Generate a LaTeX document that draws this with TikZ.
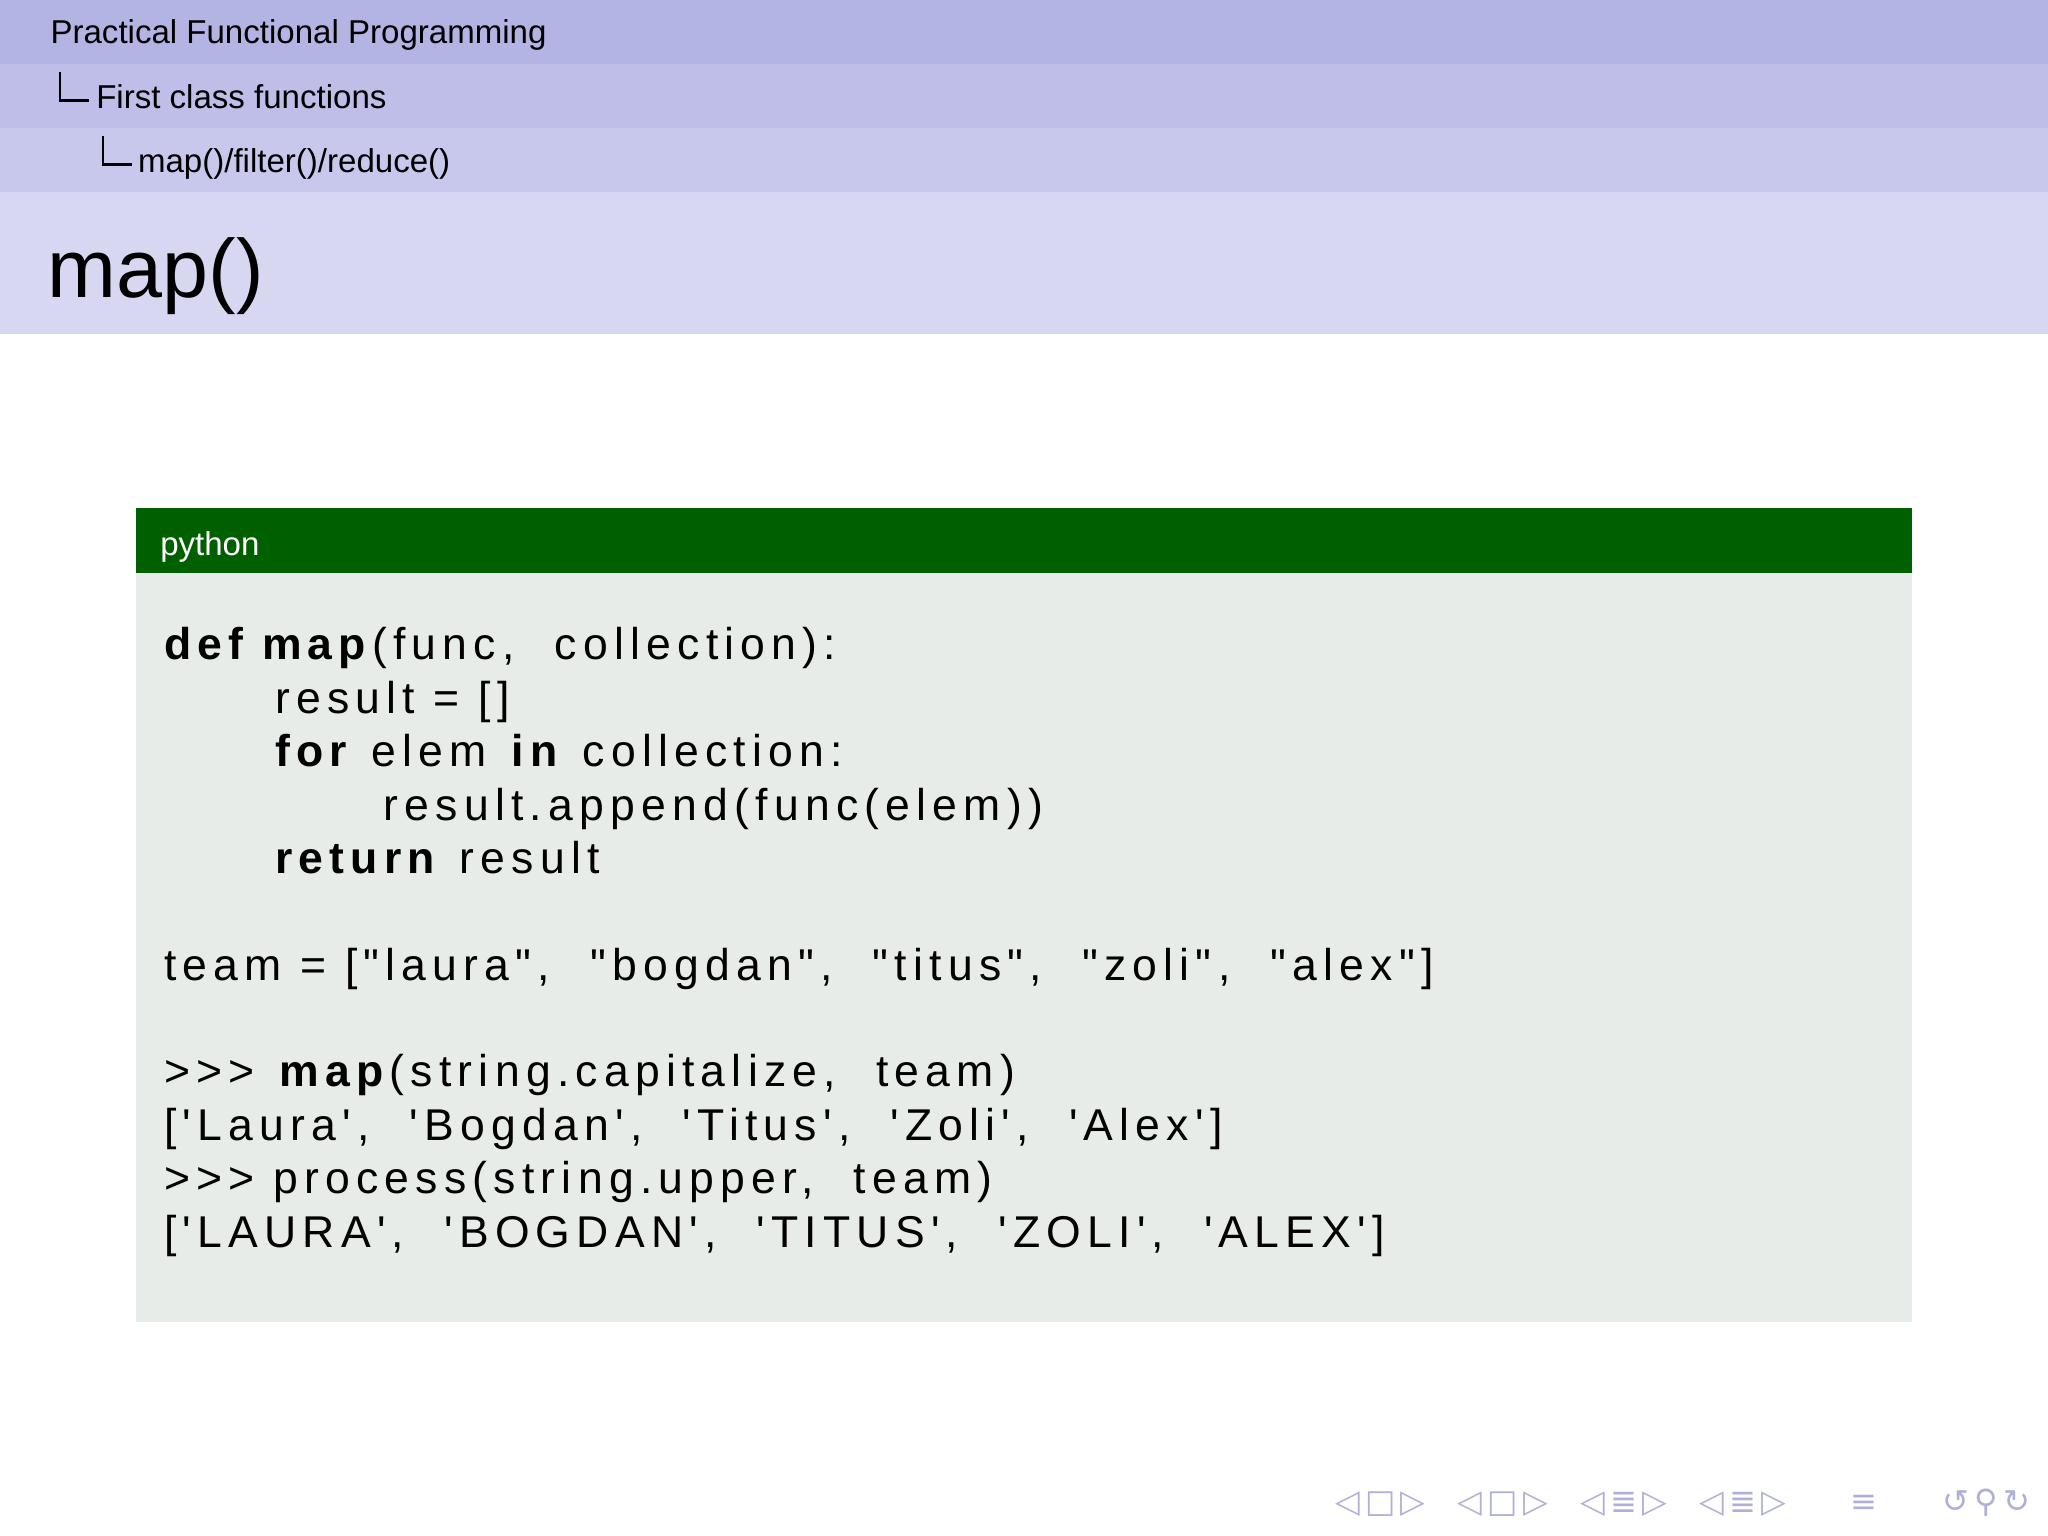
\documentclass[tikz,border=0pt]{standalone}
\usepackage{fontspec}
\setmainfont{Liberation Sans}
\newfontfamily\codefont[LetterSpace=14]{Liberation Sans}
\newfontfamily\symfont{DejaVu Sans}
\definecolor{bandA}{RGB}{180,180,228}
\definecolor{bandB}{RGB}{190,190,232}
\definecolor{bandC}{RGB}{200,200,236}
\definecolor{bandD}{RGB}{215,215,242}
\definecolor{pygreen}{RGB}{0,96,0}
\definecolor{codebg}{RGB}{232,236,232}
\definecolor{navgray}{RGB}{175,175,215}
\newcommand{\cs}{\hspace{0.9em}}
\tikzset{
  hdr/.style={anchor=base west,inner sep=0pt,font=\fontsize{7.2}{8}\selectfont},
  code/.style={anchor=base west,inner sep=0pt,font=\fontsize{9.7}{11}\codefont},
}
\begin{document}
\begin{tikzpicture}[x=0.1mm,y=-0.1mm]
\useasboundingbox (0,0) rectangle (1568,1176);
\fill[white] (0,0) rectangle (1568,1176);
\fill[bandA] (0,0) rectangle (1568,49);
\fill[bandB] (0,49) rectangle (1568,98);
\fill[bandC] (0,98) rectangle (1568,147);
\fill[bandD] (0,147) rectangle (1568,256);
\node[hdr] (t1) at (38,33) {Practical Functional Programming};
\draw[line width=0.5pt] (46,55) -- (46,77) -- (68,77);
\node[hdr] (t2) at (73,83) {First class functions};
\draw[line width=0.5pt] (79,104) -- (79,126) -- (101,126);
\node[hdr] (t3) at (105,132) {map()/filter()/reduce()};
\node[anchor=base west,inner sep=0pt,font=\fontsize{18}{20}\selectfont] (title) at (36,228) {map()};
\fill[pygreen] (104,389) rectangle (1464,439);
\fill[codebg] (104,439) rectangle (1464,1012);
\node[hdr,text=white] (py) at (122,425) {python};
\node[code] (c1) at (125,505) {\textbf{def map}(func,\cs collection):};
\node[code] (c2) at (210,546) {result = []};
\node[code] (c3) at (210,587) {\textbf{for} elem \textbf{in} collection:};
\node[code] (c4) at (293,628) {result.append(func(elem))};
\node[code] (c5) at (210,669) {\textbf{return} result};
\node[code] (c6) at (125,751) {team = ["laura",\cs "bogdan",\cs "titus",\cs "zoli",\cs "alex"]};
\node[code] (c7) at (125,832) {>{}>{}> \textbf{map}(string.capitalize,\cs team)};
\node[code] (c8) at (125,873) {['Laura',\cs 'Bogdan',\cs 'Titus',\cs 'Zoli',\cs 'Alex']};
\node[code] (c9) at (125,914) {>{}>{}> process(string.upper,\cs team)};
\node[code] (c10) at (125,955) {['LAURA',\cs 'BOGDAN',\cs 'TITUS',\cs 'ZOLI',\cs 'ALEX']};
\node[anchor=base east,inner sep=0pt,text=navgray,font=\fontsize{7}{8}\symfont] (nav) at (1555,1158)
 {◁\,□\,▷\quad ◁\,□\,▷\quad ◁\,≣\,▷\quad ◁\,≣\,▷\qquad ≡\qquad ↺\,⚲\,↻};
\end{tikzpicture}
\end{document}
